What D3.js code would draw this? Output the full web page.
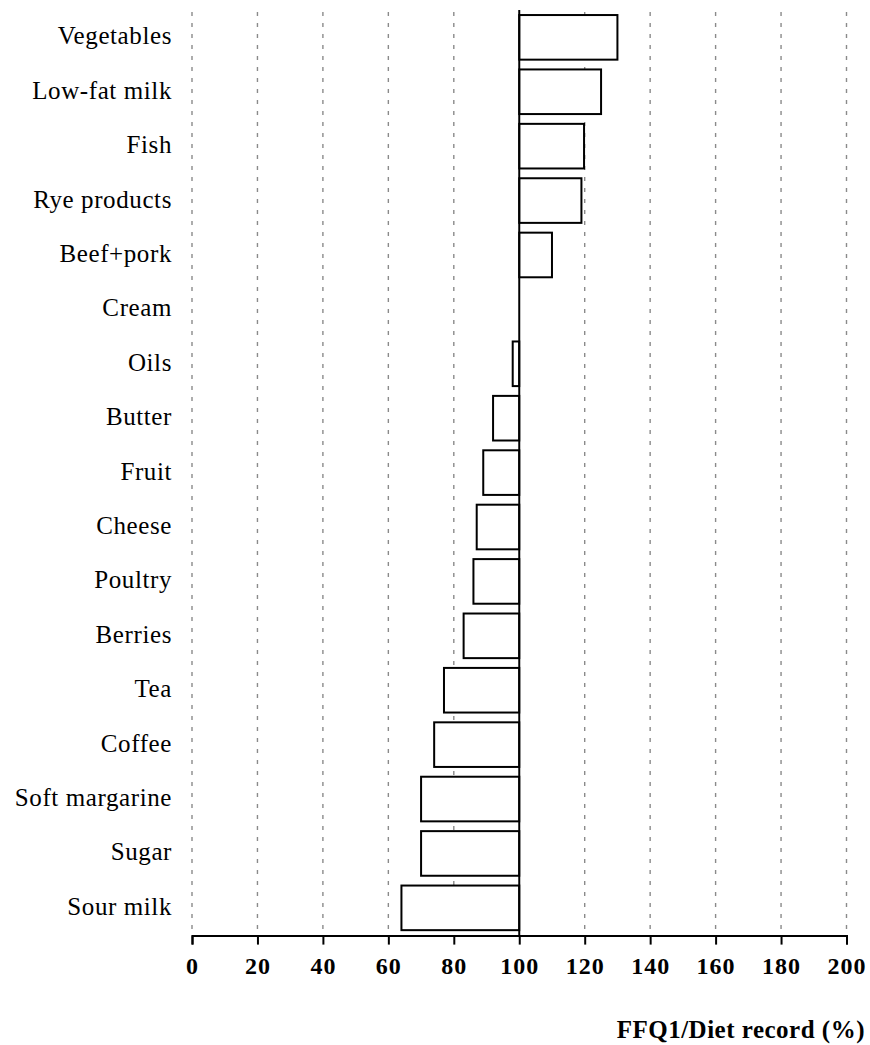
<!DOCTYPE html>
<html>
<head>
<meta charset="utf-8">
<script src="https://cdn.jsdelivr.net/npm/d3@7"></script>
<style>
  body { margin: 0; background: #fff; }
</style>
</head>
<body>
<div id="chart"></div>
<script>
(function(){

  const foods =
    ['Vegetables','Low-fat milk','Fish','Rye products','Beef+pork','Cream',
     'Oils','Butter','Fruit','Cheese','Poultry','Berries','Tea','Coffee',
     'Soft margarine','Sugar','Sour milk']

  const ratios =
    [130, 125, 119.8, 119, 110, 100,
     98, 92, 89, 87, 86, 83, 77, 74,
     70, 70, 64]

  const xTicks = [0, 20, 40, 60, 80, 100, 120, 140, 160, 180, 200]
  const xTitle = 'FFQ1/Diet record (%)'

  const width = 870, height = 1045
  const serif = "'Liberation Serif', 'DejaVu Serif', serif"

  var svg = d3.select('#chart').append('svg')
               .attr('width', width).attr('height', height)

  var x = d3.scaleLinear().domain([0, 200]).range([192, 846.5])
  var y = d3.scaleBand().domain(foods)
              .range([9.6, 935.6]).paddingInner(0.18).paddingOuter(0.1)

  const axisY = 935.6

  // dotted grid lines
  svg.append('g').selectAll('line').data(xTicks.filter(d => d !== 100))
     .enter().append('line')
       .attr('x1', d => x(d)).attr('x2', d => x(d))
       .attr('y1', 12).attr('y2', axisY)
       .attr('stroke', '#8a8a8a').attr('stroke-width', 1.4)
       .attr('stroke-dasharray', '4,7')

  // bars from the 100 line
  svg.append('g').selectAll('rect').data(foods)
     .enter().append('rect')
       .attr('x', (d, i) => x(Math.min(ratios[i], 100)))
       .attr('y', d => y(d))
       .attr('width', (d, i) => Math.abs(x(ratios[i]) - x(100)))
       .attr('height', y.bandwidth())
       .attr('fill', '#fff').attr('stroke', '#000').attr('stroke-width', 2)

  // reference line at 100
  svg.append('line')
     .attr('x1', x(100)).attr('x2', x(100))
     .attr('y1', 10).attr('y2', axisY)
     .attr('stroke', '#000').attr('stroke-width', 2)

  // category labels
  svg.append('g').selectAll('text').data(foods)
     .enter().append('text')
       .attr('x', 172).attr('y', d => y(d) + y.bandwidth() / 2 + 7)
       .attr('text-anchor', 'end')
       .attr('font-family', serif).attr('font-size', '25px')
       .attr('letter-spacing', '0.6px')
       .text(d => d)

  // x axis
  var xAxis = d3.axisBottom(x).tickValues(xTicks).tickSize(9).tickPadding(12)
  var ax = svg.append('g').attr('transform', `translate(0,${axisY})`).call(xAxis)
  ax.attr('font-size', null).attr('font-family', null)
  ax.select('.domain').attr('stroke-width', 2)
  ax.selectAll('.tick line').attr('stroke-width', 2)
  ax.selectAll('.tick text')
    .attr('font-family', serif).attr('font-size', '24px')
    .attr('font-weight', 'bold').attr('letter-spacing', '1px')
    .attr('fill', '#000')

  svg.append('text')
     .attr('x', 865).attr('y', 1038)
     .attr('text-anchor', 'end')
     .attr('font-family', serif).attr('font-size', '25px')
     .attr('font-weight', 'bold').attr('letter-spacing', '0.5px')
     .text(xTitle)

})()
</script>
</body>
</html>
